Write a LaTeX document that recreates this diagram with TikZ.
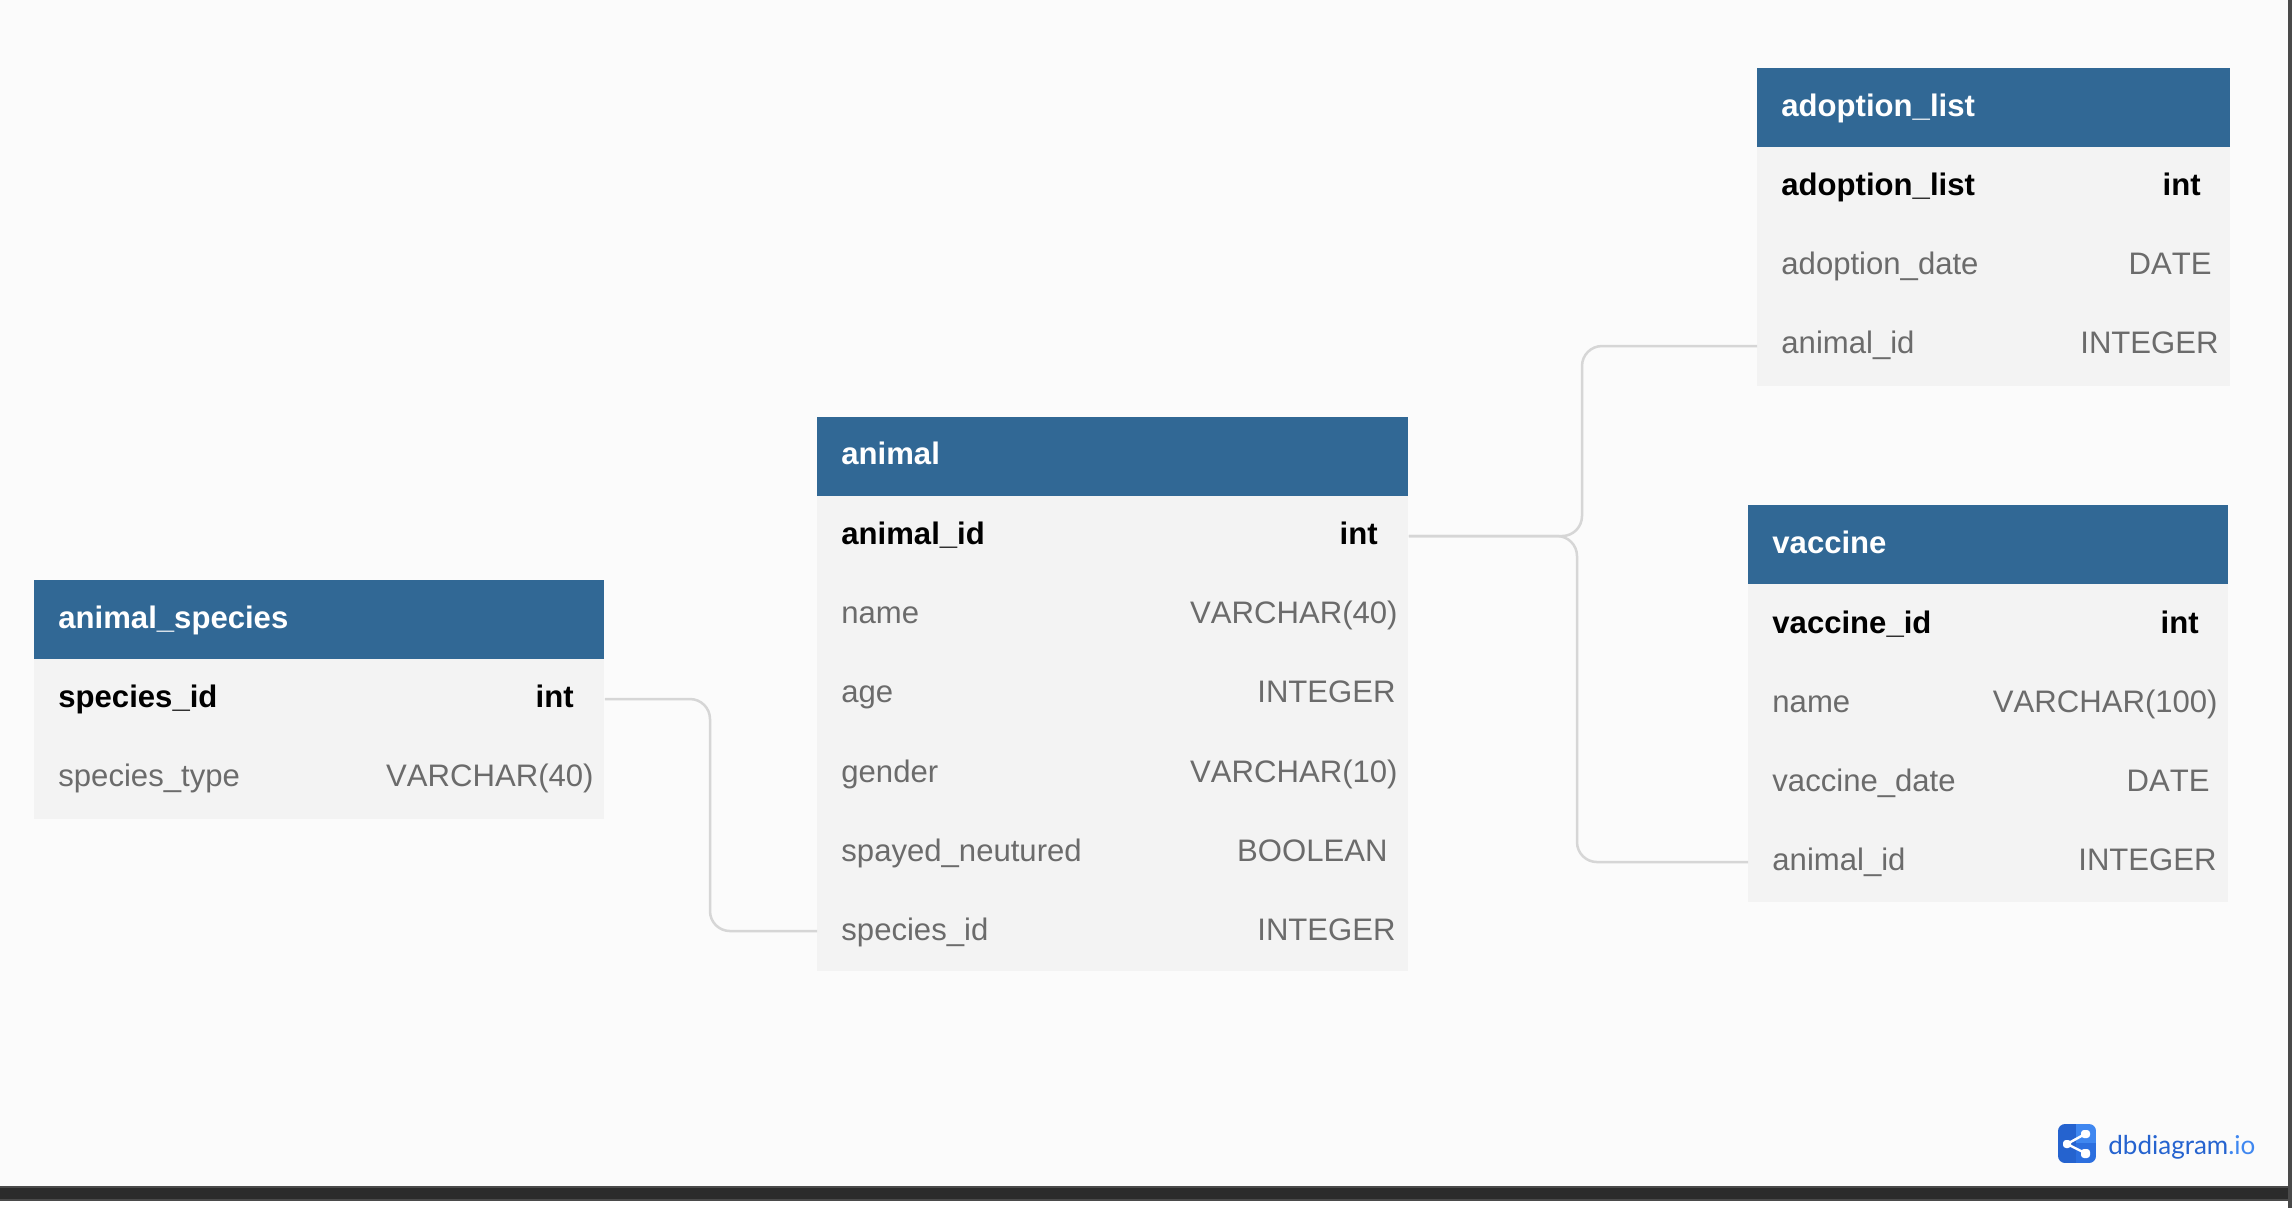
\documentclass[tikz,border=0pt]{standalone}
\usepackage{fontspec}
\setmainfont[Kerning=Off]{Liberation Sans}
\newfontfamily\logofont{Lato}
\definecolor{pagebg}{HTML}{FBFBFB}
\definecolor{headblue}{HTML}{316895}
\definecolor{rowgray}{HTML}{F3F3F3}
\definecolor{fieldgray}{HTML}{6B6B6B}
\definecolor{linkgray}{HTML}{D6D6D6}
\definecolor{barblack}{HTML}{2B2B2B}
\definecolor{baredge}{HTML}{4A4A4A}
\definecolor{logodark}{HTML}{2563CF}
\definecolor{logomid}{HTML}{2C6FDF}
\definecolor{logolight}{HTML}{3F87F0}
\tikzset{
    tablehead/.style = {fill = headblue, anchor = north west, minimum height = 39.5pt, minimum width = #1, inner sep = 0pt},
    headname/.style = {anchor = base west, font = \fontsize{15.55}{15.55}\selectfont\bfseries, text = white, inner sep = 0pt},
    fieldrow/.style = {fill = rowgray, anchor = north west, minimum height = 39.65pt, minimum width = #1, inner sep = 0pt},
    keyname/.style = {anchor = base west, font = \fontsize{15.55}{15.55}\selectfont\bfseries, text = black, inner sep = 0pt},
    keytype/.style = {anchor = base east, font = \fontsize{15.55}{15.55}\selectfont\bfseries, text = black, inner sep = 0pt},
    fieldname/.style = {anchor = base west, font = \fontsize{15.55}{15.55}\selectfont, text = fieldgray, inner sep = 0pt},
    fieldtype/.style = {anchor = base east, font = \fontsize{15.55}{15.55}\selectfont, text = fieldgray, inner sep = 0pt},
    relation/.style = {draw = linkgray, line width = 1.25pt, rounded corners = 10pt}
}
\begin{document}
\begin{tikzpicture}[x = 0.5pt, y = -0.5pt]
    \useasboundingbox (0, 0) rectangle (2292, 1208);
    \fill [pagebg] (0, 0) rectangle (2292, 1208);
    \fill [white] (0, 1201) rectangle (2292, 1208);
    \fill [baredge] (0, 1186) rectangle (2292, 1201);
    \fill [barblack] (0, 1188) rectangle (2292, 1199);
    \fill [baredge] (2288, 0) rectangle (2292, 1208);

    % animal_species
    \node [tablehead = 285pt] (specieshead) at (34, 580) {};
    \node [headname] (speciestitle) at (58, 628) {animal\_species};
    \node [fieldrow = 285pt] (speciesA) at (34, 659) {};
    \node [fieldrow = 285pt] (speciesB) at (34, 739) {};
    \node [keyname] (speciesAname) at (58, 707) {species\_id};
    \node [keytype] (speciesAtype) at (574, 707) {int};
    \node [fieldname] (speciesBname) at (58, 786) {species\_type};
    \node [fieldtype] (speciesBtype) at (594, 786) {VARCHAR(40)};

    % animal
    \node [tablehead = 295.5pt] (animalhead) at (817, 417) {};
    \node [headname] (animaltitle) at (841, 465) {animal};
    \node [fieldrow = 295.5pt] (animalA) at (817, 496) {};
    \node [fieldrow = 295.5pt] (animalB) at (817, 575) {};
    \node [fieldrow = 295.5pt] (animalC) at (817, 654) {};
    \node [fieldrow = 295.5pt] (animalD) at (817, 733) {};
    \node [fieldrow = 295.5pt] (animalE) at (817, 812) {};
    \node [fieldrow = 295.5pt] (animalF) at (817, 891) {};
    \node [keyname] (animalAname) at (841, 545) {animal\_id};
    \node [keytype] (animalAtype) at (1378, 545) {int};
    \node [fieldname] (animalBname) at (841, 623) {name};
    \node [fieldtype] (animalBtype) at (1398, 623) {VARCHAR(40)};
    \node [fieldname] (animalCname) at (841, 702) {age};
    \node [fieldtype] (animalCtype) at (1396, 702) {INTEGER};
    \node [fieldname] (animalDname) at (841, 782) {gender};
    \node [fieldtype] (animalDtype) at (1398, 782) {VARCHAR(10)};
    \node [fieldname] (animalEname) at (841, 861) {spayed\_neutured};
    \node [fieldtype] (animalEtype) at (1388, 861) {BOOLEAN};
    \node [fieldname] (animalFname) at (841, 940) {species\_id};
    \node [fieldtype] (animalFtype) at (1396, 940) {INTEGER};

    % adoption_list
    \node [tablehead = 236.5pt] (adoptionhead) at (1757, 68) {};
    \node [headname] (adoptiontitle) at (1781, 117) {adoption\_list};
    \node [fieldrow = 236.5pt] (adoptionA) at (1757, 147) {};
    \node [fieldrow = 236.5pt] (adoptionB) at (1757, 226) {};
    \node [fieldrow = 236.5pt] (adoptionC) at (1757, 306) {};
    \node [keyname] (adoptionAname) at (1781, 196) {adoption\_list};
    \node [keytype] (adoptionAtype) at (2201, 196) {int};
    \node [fieldname] (adoptionBname) at (1781, 275) {adoption\_date};
    \node [fieldtype] (adoptionBtype) at (2212, 275) {DATE};
    \node [fieldname] (adoptionCname) at (1781, 354) {animal\_id};
    \node [fieldtype] (adoptionCtype) at (2219, 354) {INTEGER};

    % vaccine
    \node [tablehead = 240pt] (vaccinehead) at (1748, 505) {};
    \node [headname] (vaccinetitle) at (1772, 553) {vaccine};
    \node [fieldrow = 240pt] (vaccineA) at (1748, 584) {};
    \node [fieldrow = 240pt] (vaccineB) at (1748, 663) {};
    \node [fieldrow = 240pt] (vaccineC) at (1748, 743) {};
    \node [fieldrow = 240pt] (vaccineD) at (1748, 822) {};
    \node [keyname] (vaccineAname) at (1772, 633) {vaccine\_id};
    \node [keytype] (vaccineAtype) at (2199, 633) {int};
    \node [fieldname] (vaccineBname) at (1772, 712) {name};
    \node [fieldtype] (vaccineBtype) at (2218, 712) {VARCHAR(100)};
    \node [fieldname] (vaccineCname) at (1772, 791) {vaccine\_date};
    \node [fieldtype] (vaccineCtype) at (2210, 791) {DATE};
    \node [fieldname] (vaccineDname) at (1772, 870) {animal\_id};
    \node [fieldtype] (vaccineDtype) at (2217, 870) {INTEGER};

    % relations
    \coordinate (bendspecies) at (710, 0);
    \coordinate (bendadoption) at (1582, 0);
    \coordinate (bendvaccine) at (1577, 0);
    \draw [relation] (speciesA.east) -| (bendspecies |- animalF.west) -- (animalF.west);
    \draw [relation] (animalA.east) -| (bendadoption |- adoptionC.west) -- (adoptionC.west);
    \draw [relation] (animalA.east) -| (bendvaccine |- vaccineD.west) -- (vaccineD.west);

    % logo
    \begin{scope}
        \clip [rounded corners = 3.5pt] (2058, 1124) rectangle (2096, 1163);
        \fill [logodark] (2058, 1124) rectangle (2076, 1163);
        \fill [logolight] (2076, 1124) rectangle (2096, 1143);
        \fill [logomid] (2076, 1143) rectangle (2096, 1163);
    \end{scope}
    \draw [white, line width = 1.2pt] (2067, 1144) -- (2085, 1134) (2067, 1144) -- (2085, 1153);
    \fill [white, rounded corners = 1.5pt] (2063, 1140) rectangle (2071, 1148);
    \fill [white, rounded corners = 1.5pt] (2081, 1130) rectangle (2090, 1138);
    \fill [white, rounded corners = 1.5pt] (2081, 1149) rectangle (2090, 1158);
    \node [anchor = base west, inner sep = 0pt, font = \logofont\fontsize{13}{13}\selectfont] (logotext) at (2108, 1154) {\textcolor{logodark}{dbdiagram}\textcolor{logolight}{.io}};
\end{tikzpicture}
\end{document}
